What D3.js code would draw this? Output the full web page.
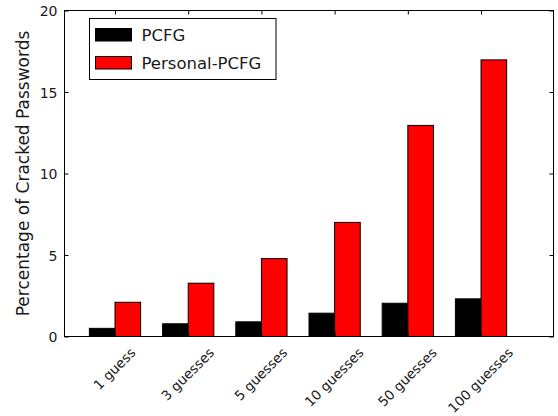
<!DOCTYPE html>
<html>
<head>
<meta charset="utf-8">
<script src="https://cdn.jsdelivr.net/npm/d3@7"></script>
<style>
  html, body { margin: 0; padding: 0; background: #fff; }
  svg { display: block; }
  text { font-family: "DejaVu Sans", sans-serif; fill: #1a1a1a; }
</style>
</head>
<body>
<svg id="chart" width="558" height="416"></svg>
<script>
const categories = ["1 guess", "3 guesses", "5 guesses", "10 guesses", "50 guesses", "100 guesses"];
const seriesNames = ["PCFG", "Personal-PCFG"];
const pcfg = [0.5, 0.78, 0.9, 1.43, 2.04, 2.31];
const personalPcfg = [2.1, 3.27, 4.78, 7.0, 12.95, 16.97];
const yTicks = [0, 5, 10, 15, 20];
const colors = ["#000000", "#ff0000"];

(function () {
const svg = d3.select("#chart");
const pL = 64.5, pR = 553.5, pT = 10.5, pB = 336.5;
const barW = 0.35;

const x = d3.scaleLinear().domain([-0.34, 6.34]).range([pL, pR]);
const y = d3.scaleLinear().domain([0, 20]).range([pB, pT]);

const series = [pcfg, personalPcfg];

// bars
series.forEach((vals, s) => {
  svg.append("g").selectAll("rect").data(vals).join("rect")
    .attr("x", (d, i) => x(i + s * barW))
    .attr("width", (d, i) => x(i + (s + 1) * barW) - x(i + s * barW))
    .attr("y", d => y(d))
    .attr("height", d => y(0) - y(d))
    .attr("fill", colors[s])
    .attr("stroke", "#000")
    .attr("stroke-width", 1);
});

const tickPos = categories.map((c, i) => i + barW);

// axes with inward ticks
const axB = d3.axisBottom(x).tickValues(tickPos).tickSize(-4).tickFormat("");
const axT = d3.axisTop(x).tickValues(tickPos).tickSize(-4).tickFormat("");
const axL = d3.axisLeft(y).tickValues(yTicks).tickSize(-4).tickPadding(7).tickFormat(d3.format("d"));
const axR = d3.axisRight(y).tickValues(yTicks).tickSize(-4).tickFormat("");

function style(g) {
  g.select(".domain").remove();
  g.selectAll(".tick line").attr("stroke", "#000");
}
svg.append("g").attr("transform", `translate(0,${pB})`).call(axB).call(style);
svg.append("g").attr("transform", `translate(0,${pT})`).call(axT).call(style);
const gl = svg.append("g").attr("transform", `translate(${pL},0)`).call(axL).call(style);
gl.selectAll(".tick text").attr("font-size", 14).attr("font-family", "DejaVu Sans").attr("fill", "#1a1a1a").attr("dy", "0.36em");
svg.append("g").attr("transform", `translate(${pR},0)`).call(axR).call(style);

// frame
svg.append("rect").attr("x", pL).attr("y", pT)
  .attr("width", pR - pL).attr("height", pB - pT)
  .attr("fill", "none").attr("stroke", "#000").attr("stroke-width", 1);

// rotated x tick labels, centred bbox under each tick
const fs = 13.5;
const labG = svg.append("g");
categories.forEach((c, i) => {
  const t = labG.append("text").text(c).attr("font-size", fs).attr("text-anchor", "middle");
  const w = t.node().getComputedTextLength();
  const h = fs * 1.0;
  const half = (w + h) / (2 * Math.SQRT2);
  const cx = x(tickPos[i]), cy = 346 + half;
  t.attr("x", cx).attr("y", cy).attr("dy", "0.3em")
   .attr("transform", `rotate(-45,${cx},${cy})`);
});

// y label
svg.append("text")
  .attr("transform", `translate(28.5,${(pT + pB) / 2}) rotate(-90)`)
  .attr("text-anchor", "middle")
  .attr("font-size", 17)
  .text("Percentage of Cracked Passwords");

// legend
const lg = svg.append("g");
lg.append("rect").attr("x", 89.5).attr("y", 18.5).attr("width", 186.5).attr("height", 61)
  .attr("fill", "#fff").attr("stroke", "#000").attr("stroke-width", 1);
const swY = [28.5, 56.5];
const txtY = [41, 68.5];
seriesNames.forEach((n, s) => {
  lg.append("rect").attr("x", 95.5).attr("y", swY[s]).attr("width", 36).attr("height", 12.5)
    .attr("fill", colors[s]).attr("stroke", "#000").attr("stroke-width", 1);
  lg.append("text").attr("x", 141.5).attr("y", txtY[s]).attr("font-size", 16.5).text(n);
});
})();
</script>
</body>
</html>
